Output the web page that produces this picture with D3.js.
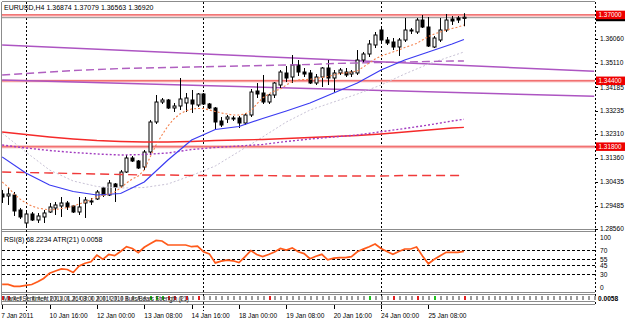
<!DOCTYPE html>
<html>
<head>
<meta charset="utf-8">
<script src="https://cdn.jsdelivr.net/npm/d3@7"></script>
<style>
  body { margin: 0; background: #fff; }
  svg { display: block; }
  text { font-family: "Liberation Sans", Arial, sans-serif; }
</style>
</head>
<body>
<svg id="chart" width="625" height="320"></svg>
<script>
// EURUSD H4 candles (bar 0 = 7 Jan 2011 08:00)
const open  = [1.29942,1.29863,1.29902,1.29310,1.28797,1.29152,1.28916,1.29034,1.29231,1.29389,
               1.29468,1.29587,1.29468,1.29231,1.29587,1.29626,1.29745,1.30179,1.29902,1.30337,
               1.30258,1.30810,1.31363,1.31244,1.31007,1.31600,1.32784,1.33573,1.33652,1.33336,
               1.33415,1.33534,1.33652,1.33455,1.33889,1.33494,1.33336,1.32823,1.32902,1.32942,
               1.32942,1.32744,1.33060,1.34007,1.33928,1.33573,1.33849,1.34244,1.34718,1.34560,
               1.35033,1.34757,1.34718,1.34323,1.34560,1.34915,1.34520,1.34718,1.34757,1.34678,
               1.34718,1.35231,1.35468,1.35823,1.36415,1.36020,1.35941,1.35744,1.36020,1.36375,
               1.36336,1.36810,1.36533,1.35744,1.36020,1.36415,1.36849,1.36889,1.36874];
const high  = [1.30100,1.30179,1.30021,1.29389,1.29231,1.29231,1.29192,1.29310,1.29587,1.29626,
               1.29823,1.29666,1.29508,1.29823,1.29823,1.29784,1.30100,1.30218,1.30494,1.30376,
               1.30889,1.31481,1.31442,1.31284,1.31679,1.32863,1.33849,1.33731,1.33692,1.33534,
               1.34520,1.33928,1.34047,1.33928,1.33928,1.33534,1.33376,1.32981,1.33060,1.33021,
               1.33021,1.33139,1.34086,1.34323,1.34639,1.33889,1.34362,1.34836,1.34994,1.35428,
               1.35231,1.34915,1.34836,1.34678,1.34954,1.35231,1.34836,1.34915,1.34915,1.34836,
               1.35624,1.35547,1.36020,1.36336,1.36494,1.36139,1.36099,1.36099,1.36889,1.36494,
               1.36889,1.37007,1.36928,1.36178,1.36889,1.37046,1.36968,1.36968,1.37079];
const low   = [1.29587,1.29508,1.29074,1.28955,1.28679,1.28876,1.28797,1.28797,1.29192,1.29113,
               1.29034,1.29310,1.29192,1.29113,1.28995,1.29508,1.29705,1.29823,1.29863,1.29626,
               1.30179,1.30771,1.31205,1.30929,1.30889,1.31481,1.32705,1.33494,1.33297,1.33178,
               1.33257,1.33178,1.33139,1.33376,1.33455,1.33297,1.32468,1.32586,1.32744,1.32823,
               1.32547,1.32665,1.32981,1.33731,1.33494,1.33494,1.33731,1.34126,1.34362,1.34323,
               1.34599,1.34560,1.34284,1.34244,1.34165,1.34244,1.33968,1.34639,1.34560,1.34560,
               1.34639,1.35112,1.35349,1.35704,1.35941,1.35823,1.35624,1.35389,1.35941,1.36257,
               1.36257,1.36494,1.35744,1.35704,1.35941,1.36336,1.36612,1.36691,1.36563];
const close = [1.29823,1.29942,1.29271,1.29034,1.29152,1.28916,1.29074,1.29192,1.29429,1.29508,
               1.29587,1.29429,1.29231,1.29429,1.29705,1.29666,1.30021,1.29902,1.30376,1.30218,
               1.30810,1.31363,1.31244,1.30968,1.31600,1.32784,1.33573,1.33652,1.33336,1.33415,
               1.33692,1.33731,1.33494,1.33889,1.33494,1.33336,1.32784,1.32665,1.32981,1.32902,
               1.32744,1.33060,1.33968,1.33889,1.33573,1.33849,1.34323,1.34757,1.34520,1.35033,
               1.34757,1.34678,1.34323,1.34560,1.34915,1.34520,1.34718,1.34836,1.34639,1.34757,
               1.35231,1.35468,1.35862,1.36218,1.36020,1.35902,1.35744,1.36020,1.36415,1.36415,
               1.36810,1.36533,1.35783,1.36099,1.36415,1.36810,1.36770,1.36810,1.36920];

// moving averages, read every 4 bars
const maIdx      = [0,4,8,12,16,20,24,28,32,36,40,44,48,52,56,60,64,68,72,76,78];
const maPurpleDash = [1.34639,1.34698,1.34757,1.34817,1.34856,1.34896,1.34915,1.34935,1.34955,1.34975,
                      1.34994,1.35014,1.35034,1.35053,1.35093,1.35112,1.35132,1.35152,1.35172,1.35191,1.35191];
const maPurpleDot  = [1.31876,1.31758,1.31659,1.31580,1.31521,1.31481,1.31501,1.31560,1.31698,1.31777,
                      1.31836,1.31896,1.32014,1.32112,1.32192,1.32270,1.32401,1.32527,1.32665,1.32823,1.32890];
const maRed        = [1.32389,1.32290,1.32192,1.32113,1.32053,1.32014,1.31994,1.31994,1.32014,1.32053,
                      1.32073,1.32093,1.32132,1.32172,1.32211,1.32251,1.32310,1.32389,1.32468,1.32547,1.32575];
const maRedDash    = [1.30810,1.30790,1.30771,1.30751,1.30731,1.30711,1.30692,1.30692,1.30672,1.30672,
                      1.30672,1.30672,1.30652,1.30652,1.30652,1.30652,1.30652,1.30672,1.30672,1.30672,1.30672];
const maBlue       = [1.31402,1.30771,1.30297,1.30041,1.29902,1.29962,1.30415,1.31284,1.32073,1.32488,
                      1.32606,1.32922,1.33218,1.33534,1.33928,1.34323,1.34836,1.35231,1.35547,1.35862,1.36040];
const maGray       = [1.32349,1.31600,1.30889,1.30455,1.30238,1.30179,1.30198,1.30337,1.30672,1.31047,
                      1.31619,1.32192,1.32784,1.33257,1.33573,1.33889,1.34244,1.34678,1.35073,1.35389,1.35547];
// fast MA, every bar
const maOrange = [1.30415,1.30218,1.29942,1.29745,1.29587,1.29468,1.29389,1.29350,1.29310,1.29330,
                  1.29370,1.29409,1.29468,1.29547,1.29626,1.29725,1.29823,1.29883,1.29942,1.30021,
                  1.30179,1.30376,1.30534,1.30652,1.30889,1.31402,1.31876,1.32271,1.32626,1.32902,
                  1.33099,1.33218,1.33297,1.33317,1.33317,1.33257,1.33198,1.33139,1.33099,1.33060,
                  1.33060,1.33099,1.33218,1.33494,1.33731,1.33889,1.34007,1.34086,1.34244,1.34375,
                  1.34441,1.34461,1.34469,1.34501,1.34540,1.34580,1.34639,1.34698,1.34718,1.34757,
                  1.34797,1.34954,1.35112,1.35270,1.35389,1.35468,1.35547,1.35624,1.35724,1.35803,
                  1.35882,1.36020,1.36158,1.36257,1.36336,1.36415,1.36474,1.36533,1.36612];

// RSI(8)
const rsi = [13.3,13.3,10,9.8,11.5,13,17.5,23,31.7,35.5,39,38,33,44,48.5,51,62,55,63,61,
             68,76,73,66,75,81,86.5,85.5,78.8,78.8,78.8,78.8,76,77,67.7,64,49,52,53.5,52.5,
             49.5,59,69.5,63,59.5,63,67,73,70.5,74,67.5,64.5,56,60,63.3,54,57,57.7,57.7,59.5,
             67.5,72,76,80.5,73,68,63.5,68,72.2,72.2,75.5,60.5,47.5,55,61,66.7,66.7,66.7,68.2];
const rsiLevels = [70, 55, 45, 30];
const rsiLabels = [100, 70, 55, 45, 30, 0];

// trend lines: price at bar 0 and bar 100
const trendUpper = [1.35823, 1.34785];
const trendLower = [1.34441, 1.33798];

const hLines     = [1.37000, 1.34400, 1.31800];
const bidPrice   = 1.36920;
const priceTicks = [1.36060,1.35110,1.34185,1.33235,1.32310,1.31360,1.30435,1.29485,1.28560];

const timeBars   = [0,8,16,24,32,40,48,56,64,72];
const timeLabels = ["7 Jan 2011","10 Jan 16:00","12 Jan 00:00","13 Jan 08:00","14 Jan 16:00",
                    "18 Jan 00:00","19 Jan 08:00","20 Jan 16:00","24 Jan 00:00","25 Jan 08:00"];
const weekBars   = [4, 34, 64];

// signal strip markers
const greenBars = [25, 26, 27, 62, 73];
const redBars   = [0, 1, 28, 29, 31, 33, 45, 66, 70, 78];

/*******************************************************************************
                                  Drawing
*******************************************************************************/
const svg = d3.select("#chart");
const x  = d3.scaleLinear().domain([0, 100]).range([2.16, 594.16]);
const y  = d3.scaleLinear().domain([1.2856, 1.3606]).range([229, 39]);
const ry = d3.scaleLinear().domain([0, 100]).range([292.3, 232.3]);

const defs = svg.append("defs");
defs.append("clipPath").attr("id", "mainClip")
    .append("rect").attr("x", 2).attr("y", 2).attr("width", 593).attr("height", 227);
defs.append("clipPath").attr("id", "rsiClip")
    .append("rect").attr("x", 2).attr("y", 232).attr("width", 593).attr("height", 60);

svg.append("rect").attr("width", 625).attr("height", 320).attr("fill", "#fff");

// panel frames
const frame = svg.append("g").attr("stroke", "#8c8c8c").attr("fill", "none")
                 .attr("shape-rendering", "crispEdges");
[1.5, 229.5, 231.5, 292.5, 294.5, 301.5, 304.5].forEach(function(yy){
  frame.append("line").attr("x1", 1.5).attr("x2", 595).attr("y1", yy).attr("y2", yy);
});
frame.append("line").attr("x1", 1.5).attr("x2", 1.5).attr("y1", 1.5).attr("y2", 304.5);

// weekly grid
svg.append("g").selectAll("line").data(weekBars).enter().append("line")
   .attr("x1", d => Math.round(x(d)) + 0.5).attr("x2", d => Math.round(x(d)) + 0.5)
   .attr("y1", 2).attr("y2", 311)
   .attr("stroke", "#000").attr("stroke-dasharray", "2,2")
   .attr("shape-rendering", "crispEdges");

// right axis line
svg.append("line").attr("x1", 595.5).attr("x2", 595.5).attr("y1", 2).attr("y2", 306)
   .attr("stroke", "#000").attr("stroke-dasharray", "2,2").attr("shape-rendering", "crispEdges");

const main = svg.append("g").attr("clip-path", "url(#mainClip)");

// horizontal level lines
hLines.forEach(function(p){
  main.append("line").attr("x1", 2).attr("x2", 595).attr("y1", y(p)).attr("y2", y(p))
      .attr("stroke", "#f7a3a3").attr("stroke-width", 2.6);
  main.append("line").attr("x1", 2).attr("x2", 595).attr("y1", y(p) - 0.5).attr("y2", y(p) - 0.5)
      .attr("stroke", "#f06060").attr("stroke-width", 0.8);
});
main.append("line").attr("x1", 2).attr("x2", 595).attr("y1", y(bidPrice) + 0.5).attr("y2", y(bidPrice) + 0.5)
    .attr("stroke", "#8a8a8a").attr("stroke-width", 1);

// trend lines
[trendUpper, trendLower].forEach(function(t){
  main.append("line").attr("x1", x(0)).attr("x2", x(100)).attr("y1", y(t[0])).attr("y2", y(t[1]))
      .attr("stroke", "#ad55c2").attr("stroke-width", 1.6);
});

// candles
const bars = d3.range(open.length);
main.selectAll(".wick").data(bars).enter().append("line")
    .attr("class", "wick")
    .attr("x1", i => Math.round(x(i)) + 0.5).attr("x2", i => Math.round(x(i)) + 0.5)
    .attr("y1", i => y(high[i])).attr("y2", i => y(low[i]))
    .attr("stroke", "#000").attr("stroke-width", 1);
main.selectAll(".body").data(bars).enter().append("rect")
    .attr("class", "body")
    .attr("x", i => Math.round(x(i)) - 1)
    .attr("y", i => y(Math.max(open[i], close[i])))
    .attr("width", 3)
    .attr("height", i => Math.max(0.6, Math.abs(y(open[i]) - y(close[i]))))
    .attr("fill", i => close[i] >= open[i] ? "#fff" : "#000")
    .attr("stroke", "#000").attr("stroke-width", 1);

// moving averages
function drawMA(idx, vals, color, dash, width){
  main.append("path")
      .datum(idx.map(function(b, k){ return [b, vals[k]]; }))
      .attr("d", d3.line().x(d => x(d[0])).y(d => y(d[1])))
      .attr("fill", "none")
      .attr("stroke", color)
      .attr("stroke-width", width)
      .attr("stroke-dasharray", dash);
}
drawMA(maIdx, maGray, "#c9c3d6", "2,2", 1);
drawMA(maIdx, maRedDash, "#f03a3a", "9,5", 1.4);
drawMA(maIdx, maRed, "#f52a2a", null, 1.3);
drawMA(maIdx, maPurpleDot, "#a23cc0", "2,2", 1.4);
drawMA(maIdx, maPurpleDash, "#b060c0", "8,4", 1.4);
drawMA(maIdx, maBlue, "#3b3bf2", null, 1.2);
drawMA(bars, maOrange, "#f4824e", "2,2", 1.1);

// price axis
const axisR = svg.append("g").attr("font-size", "6.6px");
axisR.selectAll("text").data(priceTicks).enter().append("text")
     .attr("x", 600).attr("y", d => y(d) + (d === 1.34185 ? 3.6 : 2.4)).text(d => d.toFixed(5));
axisR.selectAll("line").data(priceTicks).enter().append("line")
     .attr("x1", 595).attr("x2", 598).attr("y1", d => Math.round(y(d)) + 0.5).attr("y2", d => Math.round(y(d)) + 0.5)
     .attr("stroke", "#000").attr("shape-rendering", "crispEdges");

// bid label then level labels
svg.append("rect").attr("x", 596).attr("y", y(bidPrice) - 4).attr("width", 29).attr("height", 8).attr("fill", "#000");
const lvl = svg.append("g").selectAll("g").data(hLines).enter().append("g");
lvl.append("rect").attr("x", 596).attr("y", d => y(d) - 4.5).attr("width", 29).attr("height", 8.5).attr("fill", "#ee0000");
lvl.append("text").attr("x", 598.5).attr("y", d => y(d) + 2.2).attr("font-size", "6.4px")
   .attr("fill", "#fff").text(d => d.toFixed(5));

// title
svg.append("text").attr("x", 4).attr("y", 10).attr("font-size", "7px").attr("fill", "#000")
   .text("EURUSD,H4  1.36874 1.37079 1.36563 1.36920");

// RSI panel
const rsiG = svg.append("g").attr("clip-path", "url(#rsiClip)");
rsiG.selectAll("line").data(rsiLevels).enter().append("line")
    .attr("x1", 2).attr("x2", 595).attr("y1", d => Math.round(ry(d)) + 0.5).attr("y2", d => Math.round(ry(d)) + 0.5)
    .attr("stroke", "#000").attr("stroke-dasharray", "3,2").attr("shape-rendering", "crispEdges");
rsiG.append("path").datum(rsi)
    .attr("d", d3.line().x((d, i) => x(i)).y(d => ry(d)))
    .attr("fill", "none").attr("stroke", "#ff5a1a").attr("stroke-width", 1.7);
svg.append("text").attr("x", 4).attr("y", 241.5).attr("font-size", "7px")
   .text("RSI(8) 68.2234  ATR(21) 0.0058");
svg.append("g").attr("font-size", "6.6px").selectAll("text").data(rsiLabels).enter().append("text")
   .attr("x", 600)
   .attr("y", function(d){
     if (d === 100) return 239.5;
     if (d === 0) return 289.5;
     return ry(d) + 2.4;
   })
   .text(d => d);

// signal strip
const strip = svg.append("g").attr("shape-rendering", "crispEdges");
strip.selectAll("rect").data(d3.range(0, 101)).enter().append("rect")
     .attr("x", i => Math.round(x(i))).attr("y", 296).attr("width", 1.5).attr("height", 4)
     .attr("fill", function(i){
       if (greenBars.indexOf(i) >= 0) return "#20c020";
       if (redBars.indexOf(i) >= 0) return "#e02020";
       return "#9a9a9a";
     });
svg.append("text").attr("x", 3).attr("y", 300.5).attr("font-size", "6.4px").attr("fill", "#222")
   .attr("letter-spacing", "-0.3px")
   .text("Market Sentiment 2011.01.26 08:00 2001 2010 Bulls/Bears Strength (21)");
svg.append("text").attr("x", 598).attr("y", 301).attr("font-size", "6.6px").attr("font-weight", "bold")
   .text("0.0058");

// time axis
const tAxis = svg.append("g");
tAxis.selectAll("line").data(timeBars).enter().append("line")
     .attr("x1", d => Math.round(x(d)) + 0.5).attr("x2", d => Math.round(x(d)) + 0.5)
     .attr("y1", 305).attr("y2", 309)
     .attr("stroke", "#000").attr("shape-rendering", "crispEdges");
tAxis.selectAll("text").data(timeBars).enter().append("text")
     .attr("x", (d, k) => x(d) + (k === 0 ? -1 : 0)).attr("y", 317.5)
     .attr("font-size", "6.6px")
     .text((d, k) => timeLabels[k]);
</script>
</body>
</html>
